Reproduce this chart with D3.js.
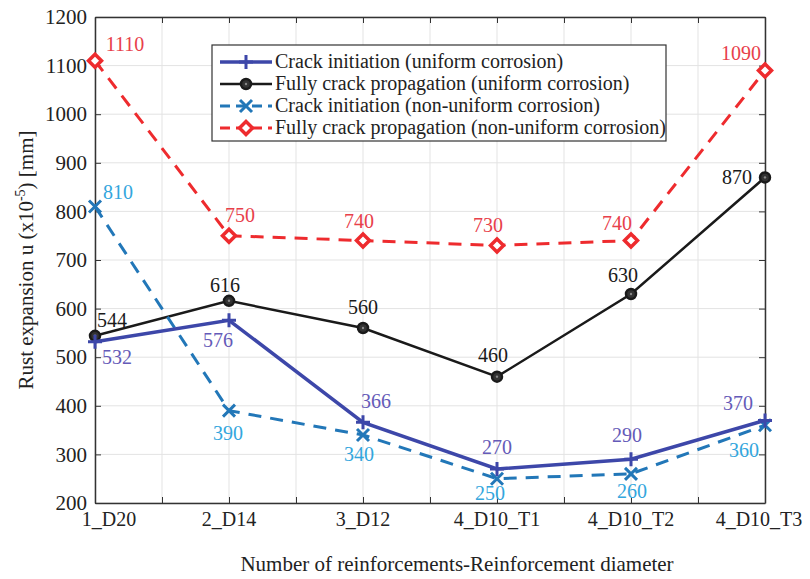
<!DOCTYPE html>
<html>
<head>
<meta charset="utf-8">
<script src="https://cdn.jsdelivr.net/npm/d3@7"></script>
<style>
  body { margin: 0; background: #fff; }
  svg text { font-family: "Liberation Serif", "DejaVu Serif", serif; }
</style>
</head>
<body>
<svg id="chart" width="810" height="579"></svg>
<script>
const categories = ["1_D20", "2_D14", "3_D12", "4_D10_T1", "4_D10_T2", "4_D10_T3"];
const yTicks = [200, 300, 400, 500, 600, 700, 800, 900, 1000, 1100, 1200];

const initUniform = [532, 576, 366, 270, 290, 370];
const fullUniform = [544, 616, 560, 460, 630, 870];
const initNonUniform = [810, 390, 340, 250, 260, 360];
const fullNonUniform = [1110, 750, 740, 730, 740, 1090];

const seriesNames = [
  "Crack initiation (uniform corrosion)",
  "Fully crack propagation (uniform corrosion)",
  "Crack initiation (non-uniform corrosion)",
  "Fully crack propagation (non-uniform corrosion)"
];

// label offsets (dx, dy) from each point, px
const labelOffsets = [
  [[22, 15], [-11, 20], [13, -21], [0, -22], [-4, -24], [-27, -17]],
  [[17, -16], [-4, -16], [0, -21], [-4, -22], [-8, -19], [-28, 0]],
  [[23, -15], [-1, 22], [-4, 19], [-7, 14], [1, 17], [-21, 25]],
  [[30, -17], [11, -21], [-4, -20], [-9, -20], [-14, -18], [-24, -17]]
];

const styles = [
  { color: "#3d47a9", label: "#645ab8", width: 3.5, dash: null, marker: "plus" },
  { color: "#1a1a1a", label: "#1a1a1a", width: 2.5, dash: null, marker: "circle" },
  { color: "#2277b8", label: "#33a6dd", width: 3, dash: "13,9", marker: "cross" },
  { color: "#ee2b2e", label: "#e8404a", width: 3, dash: "13,9", marker: "diamond" }
];

const allSeries = [initUniform, fullUniform, initNonUniform, fullNonUniform];

const serif = "Liberation Serif, DejaVu Serif, serif";
const svg = d3.select("#chart").attr("font-family", serif);
const margin = { left: 95, right: 45, top: 17, bottom: 76 };
const W = 810, H = 579;

const x = d3.scaleLinear().domain([0, categories.length - 1]).range([margin.left, W - margin.right]);
const y = d3.scaleLinear().domain([200, 1200]).range([H - margin.bottom, margin.top]);

const halfTicks = d3.range(0, categories.length - 0.5, 0.5);

// grid
svg.append("g").selectAll("line")
  .data(yTicks).join("line")
  .attr("x1", x.range()[0]).attr("x2", x.range()[1])
  .attr("y1", d => y(d)).attr("y2", d => y(d))
  .attr("stroke", "#e3e3e3").attr("stroke-width", 1);
svg.append("g").selectAll("line")
  .data(halfTicks).join("line")
  .attr("x1", d => x(d)).attr("x2", d => x(d))
  .attr("y1", y.range()[0]).attr("y2", y.range()[1])
  .attr("stroke", "#e3e3e3").attr("stroke-width", 1);

// axes (MATLAB style, ticks inward, box)
const yAxis = svg.append("g")
  .attr("transform", `translate(${margin.left},0)`)
  .call(d3.axisLeft(y).tickValues(yTicks).tickFormat(d3.format("d"))
    .tickSizeInner(-6).tickSizeOuter(0).tickPadding(8));
const yAxisR = svg.append("g")
  .attr("transform", `translate(${W - margin.right},0)`)
  .call(d3.axisRight(y).tickValues(yTicks).tickSizeInner(-6).tickSizeOuter(0).tickFormat(""));
const xAxis = svg.append("g")
  .attr("transform", `translate(0,${y(200)})`)
  .call(d3.axisBottom(x).tickValues(halfTicks).tickSizeInner(-6).tickSizeOuter(0).tickFormat(""));
const xAxisT = svg.append("g")
  .attr("transform", `translate(0,${y(1200)})`)
  .call(d3.axisTop(x).tickValues(halfTicks).tickSizeInner(-6).tickSizeOuter(0).tickFormat(""));

[yAxis, yAxisR, xAxis, xAxisT].forEach(a => {
  a.attr("font-family", serif);
  a.select(".domain").attr("stroke", "#333").attr("stroke-width", 1.5);
  a.selectAll(".tick line").attr("stroke", "#333");
});
yAxis.attr("font-size", 21);
yAxis.selectAll("text").attr("fill", "#222").attr("font-size", 21);

// category labels
svg.append("g").selectAll("text")
  .data(categories).join("text")
  .attr("x", (d, i) => x(i) + (i === 0 ? 14 : i === categories.length - 1 ? -6 : 0))
  .attr("y", y(200) + 23)
  .attr("text-anchor", "middle")
  .attr("font-size", 20).attr("fill", "#222")
  .text(d => d);

// axis titles
svg.append("text")
  .attr("x", 457)
  .attr("y", 571)
  .attr("text-anchor", "middle")
  .attr("font-size", 21).attr("fill", "#222")
  .text("Number of reinforcements-Reinforcement diameter");

const yTitle = svg.append("text")
  .attr("transform", `translate(33,${(y(200) + y(1200)) / 2}) rotate(-90)`)
  .attr("text-anchor", "middle")
  .attr("font-size", 21).attr("fill", "#222");
yTitle.append("tspan").text("Rust expansion u (x10");
yTitle.append("tspan").attr("dy", -8).attr("font-size", 14).text("-5");
yTitle.append("tspan").attr("dy", 8).text(") [mm]");

// markers
function drawMarker(g, type, color, cx, cy) {
  if (type === "plus") {
    g.append("path").attr("d", `M${cx - 7},${cy}H${cx + 7}M${cx},${cy - 7}V${cy + 7}`)
      .attr("stroke", color).attr("stroke-width", 3).attr("fill", "none");
  } else if (type === "circle") {
    g.append("circle").attr("cx", cx).attr("cy", cy).attr("r", 5)
      .attr("fill", "#333").attr("stroke", color).attr("stroke-width", 2.5);
    g.append("circle").attr("cx", cx).attr("cy", cy).attr("r", 1.2).attr("fill", "#888");
  } else if (type === "cross") {
    g.append("path").attr("d", `M${cx - 6},${cy - 6}L${cx + 6},${cy + 6}M${cx - 6},${cy + 6}L${cx + 6},${cy - 6}`)
      .attr("stroke", color).attr("stroke-width", 3).attr("fill", "none");
  } else if (type === "diamond") {
    g.append("path").attr("d", `M${cx},${cy - 6.5}L${cx + 6.5},${cy}L${cx},${cy + 6.5}L${cx - 6.5},${cy}Z`)
      .attr("stroke", color).attr("stroke-width", 3.5).attr("fill", "#fff");
  }
}

const line = d3.line().x((d, i) => x(i)).y(d => y(d));

// draw order: red, black, cyan, blue on top
const order = [3, 1, 2, 0];
order.forEach(si => {
  const st = styles[si];
  const data = allSeries[si];
  const g = svg.append("g");
  g.append("path")
    .attr("d", line(data))
    .attr("fill", "none")
    .attr("stroke", st.color)
    .attr("stroke-width", st.width)
    .attr("stroke-dasharray", st.dash);
  data.forEach((v, i) => drawMarker(g, st.marker, st.color, x(i), y(v)));
});

order.forEach(si => {
  const st = styles[si];
  svg.append("g").selectAll("text")
    .data(allSeries[si]).join("text")
    .attr("x", (d, i) => x(i) + labelOffsets[si][i][0])
    .attr("y", (d, i) => y(d) + labelOffsets[si][i][1])
    .attr("text-anchor", "middle")
    .attr("dominant-baseline", "central")
    .attr("font-size", 20)
    .attr("fill", st.label)
    .text(d => d);
});

// legend
const legend = svg.append("g").attr("transform", "translate(212,45)");
legend.append("rect")
  .attr("width", 454).attr("height", 96)
  .attr("fill", "#fff").attr("stroke", "#333").attr("stroke-width", 1.2);
seriesNames.forEach((name, i) => {
  const st = styles[i];
  const ly = 17 + i * 22;
  const item = legend.append("g");
  item.append("line")
    .attr("x1", 8).attr("x2", 60).attr("y1", ly).attr("y2", ly)
    .attr("stroke", st.color).attr("stroke-width", st.width)
    .attr("stroke-dasharray", st.dash ? "10,6" : null);
  drawMarker(item, st.marker, st.color, 34, ly);
  item.append("text")
    .attr("x", 63).attr("y", ly + 1)
    .attr("dominant-baseline", "middle")
    .attr("font-size", 20).attr("fill", "#222")
    .text(name);
});
</script>
</body>
</html>
